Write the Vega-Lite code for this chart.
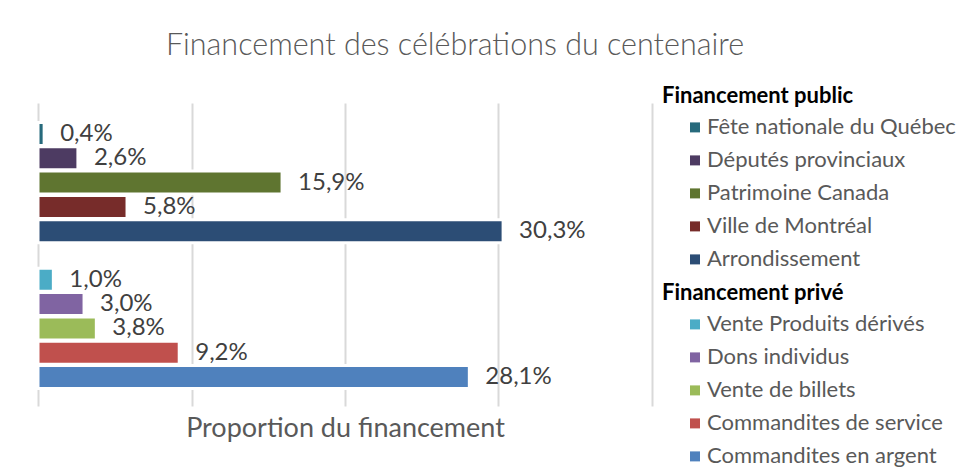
{
  "$schema": "https://vega.github.io/schema/vega-lite/v6.json",
  "width": 614,
  "height": 303,
  "autosize": {"type": "none"},
  "padding": {"left": 38, "top": 103, "right": 327, "bottom": 69},
  "background": "white",
  "title": {
    "text": "Financement des célébrations du centenaire",
    "anchor": "middle",
    "frame": "group",
    "dx": 110,
    "offset": 1,
    "baseline": "alphabetic",
    "font": "Lato",
    "fontSize": 30.5,
    "fontWeight": 300,
    "color": "#595959",
    "limit": 900
  },
  "data": {
    "values": [
      {"group": "public", "item": "Fête nationale du Québec", "value": 0.004},
      {"group": "public", "item": "Députés provinciaux", "value": 0.026},
      {"group": "public", "item": "Patrimoine Canada", "value": 0.159},
      {"group": "public", "item": "Ville de Montréal", "value": 0.058},
      {"group": "public", "item": "Arrondissement", "value": 0.303},
      {"group": "privé", "item": "Vente Produits dérivés", "value": 0.010},
      {"group": "privé", "item": "Dons individus", "value": 0.030},
      {"group": "privé", "item": "Vente de billets", "value": 0.038},
      {"group": "privé", "item": "Commandites de service", "value": 0.092},
      {"group": "privé", "item": "Commandites en argent", "value": 0.281}
    ]
  },
  "encoding": {
    "y": {
      "field": "item",
      "type": "nominal",
      "sort": null,
      "scale": {
        "domain": ["Fête nationale du Québec", "Députés provinciaux", "Patrimoine Canada", "Ville de Montréal", "Arrondissement", " ", "Vente Produits dérivés", "Dons individus", "Vente de billets", "Commandites de service", "Commandites en argent"],
        "paddingInner": 0.0535,
        "paddingOuter": 0.761,
        "align": 0.527
      },
      "axis": null
    },
    "x": {
      "field": "value",
      "type": "quantitative",
      "scale": {"domain": [0, 0.4], "nice": false},
      "axis": {
        "title": "Proportion du financement",
        "values": [0, 0.1, 0.2, 0.3, 0.4],
        "labels": false,
        "ticks": false,
        "domain": false,
        "grid": true,
        "gridColor": "#D9D9D9",
        "gridWidth": 2,
        "titleFont": "Lato",
        "titleFontSize": 27,
        "titleFontWeight": "normal",
        "titleColor": "#595959",
        "titlePadding": 9
      }
    }
  },
  "layer": [
    {
      "transform": [{"filter": "datum.group === 'public'"}],
      "mark": {"type": "bar", "stroke": "white", "strokeWidth": 3},
      "encoding": {
        "color": {
          "field": "item",
          "type": "nominal",
          "scale": {
            "domain": ["Fête nationale du Québec", "Députés provinciaux", "Patrimoine Canada", "Ville de Montréal", "Arrondissement"],
            "range": ["#276A7C", "#4D3B62", "#5F7530", "#772C2A", "#2C4D75"]
          },
          "legend": {"title": "Financement public", "orient": "none", "legendX": 624, "legendY": -16.6}
        }
      }
    },
    {
      "transform": [{"filter": "datum.group === 'privé'"}],
      "mark": {"type": "bar", "stroke": "white", "strokeWidth": 3},
      "encoding": {
        "color": {
          "field": "item",
          "type": "nominal",
          "scale": {
            "domain": ["Vente Produits dérivés", "Dons individus", "Vente de billets", "Commandites de service", "Commandites en argent"],
            "range": ["#4BACC6", "#8064A2", "#9BBB59", "#C0504D", "#4F81BD"]
          },
          "legend": {"title": "Financement privé", "orient": "none", "legendX": 624, "legendY": 180.4}
        }
      }
    },
    {
      "mark": {"type": "text", "align": "left", "baseline": "middle", "dx": 16, "font": "Lato", "fontSize": 24, "color": "#404040"},
      "encoding": {
        "text": {"field": "value", "type": "quantitative", "format": ".1%"}
      }
    }
  ],
  "resolve": {"scale": {"color": "independent"}, "legend": {"color": "independent"}},
  "config": {
    "view": {"stroke": null},
    "locale": {"number": {"decimal": ",", "thousands": " ", "grouping": [3], "currency": ["", " $"]}},
    "legend": {
      "padding": 0,
      "titleFont": "Lato",
      "titleFontSize": 22,
      "titleFontWeight": "bold",
      "titleColor": "black",
      "titlePadding": 8,
      "titleLimit": 400,
      "labelFont": "Lato",
      "labelFontSize": 22,
      "labelColor": "#595959",
      "labelLimit": 400,
      "labelOffset": 1,
      "symbolType": "square",
      "symbolSize": 100,
      "symbolStrokeWidth": 0,
      "symbolOffset": 22,
      "rowPadding": 11
    }
  }
}
